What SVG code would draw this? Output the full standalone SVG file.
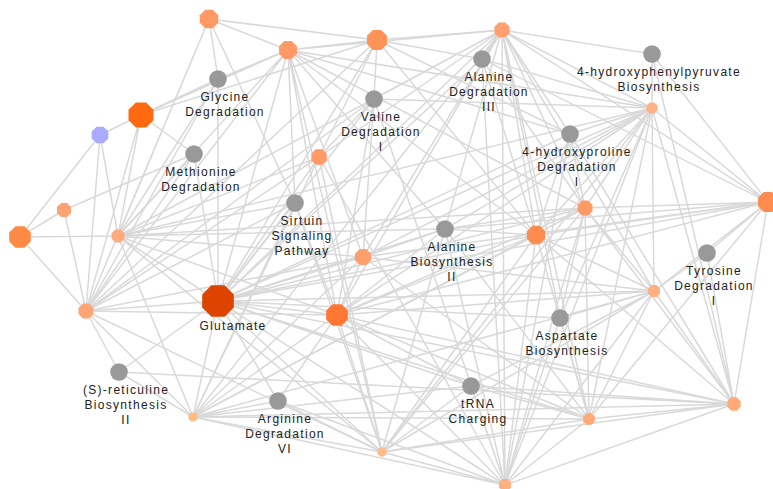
<svg xmlns="http://www.w3.org/2000/svg" width="773" height="489" viewBox="0 0 773 489">
<style>
.e path{stroke:#d9d9d9;stroke-width:1.5;fill:none}
.pw{fill:#999}
text{font-family:"Liberation Sans",Arial,sans-serif;font-size:12px;letter-spacing:1.3px;fill:#222;text-anchor:middle}
</style>
<defs>
<polygon id="oct" points="0.924,0.383 0.383,0.924 -0.383,0.924 -0.924,0.383 -0.924,-0.383 -0.383,-0.924 0.383,-0.924 0.924,-0.383"/>
</defs>
<rect width="773" height="489" fill="#fff"/>
<g id="connectors" class="e">
<path d="M209 19L218 79M209 19L118 236M209 19L377 40M209 19L288 50M209 19L295 203M209 19L86 311"/>
<path d="M288 50L377 40M288 50L502 30M288 50L218 79M288 50L141 115M288 50L118 236M288 50L218 301M288 50L295 203M288 50L363 257M288 50L337 315M288 50L445 229M288 50L585 208M288 50L570 134M288 50L652 108M288 50L536 235M288 50L86 311M288 50L382 452"/>
<path d="M377 40L502 30M377 40L141 115M377 40L374 99M377 40L319 157M377 40L218 301M377 40L482 59M377 40L536 235M377 40L570 134M377 40L86 311"/>
<path d="M502 30L482 59M502 30L374 99M502 30L319 157M502 30L218 301M502 30L363 257M502 30L337 315M502 30L445 229M502 30L536 235M502 30L585 208M502 30L570 134M502 30L652 108M502 30L652 54M502 30L768 202M502 30L654 291M502 30L560 318M502 30L505 485M502 30L589 419M502 30L118 236M502 30L193 417"/>
<path d="M141 115L100 135M141 115L118 236M141 115L194 154M141 115L218 79M141 115L86 311"/>
<path d="M100 135L20 237M100 135L118 236M100 135L86 311M64 210L20 237M64 210L86 311M64 210L194 154M20 237L118 236M20 237L86 311"/>
<path d="M118 236L218 79M118 236L194 154M118 236L319 157M118 236L295 203M118 236L363 257M118 236L337 315M118 236L218 301M118 236L585 208M118 236L445 229M118 236L382 452M118 236L193 417M118 236L652 108"/>
<path d="M319 157L218 301M319 157L374 99M319 157L86 311M319 157L193 417M319 157L382 452"/>
<path d="M218 301L218 79M218 301L194 154M218 301L295 203M218 301L363 257M218 301L337 315M218 301L445 229M218 301L536 235M218 301L585 208M218 301L652 108M218 301L768 202M218 301L654 291M218 301L560 318M218 301L734 404M218 301L589 419M218 301L471 386M218 301L382 452M218 301L505 485M218 301L193 417M218 301L278 401M218 301L119 372M218 301L86 311M218 301L374 99M218 301L482 59M218 301L570 134"/>
<path d="M86 311L194 154M86 311L295 203M86 311L363 257M86 311L337 315M86 311L218 79M86 311L193 417M86 311L374 99M86 311L119 372M86 311L382 452"/>
<path d="M337 315L295 203M337 315L374 99M337 315L363 257M337 315L445 229M337 315L536 235M337 315L585 208M337 315L652 108M337 315L654 291M337 315L471 386M337 315L589 419M337 315L505 485M337 315L382 452M337 315L193 417M337 315L278 401M337 315L734 404M337 315L768 202"/>
<path d="M363 257L374 99M363 257L445 229M363 257L652 108M363 257L768 202M363 257L654 291M363 257L589 419M363 257L193 417"/>
<path d="M536 235L482 59M536 235L570 134M536 235L652 108M536 235L768 202M536 235L654 291M536 235L560 318M536 235L734 404M536 235L589 419M536 235L505 485M536 235L382 452M536 235L193 417M536 235L445 229"/>
<path d="M585 208L482 59M585 208L570 134M585 208L652 108M585 208L768 202M585 208L654 291M585 208L560 318M585 208L734 404M585 208L589 419M585 208L505 485M585 208L382 452M585 208L445 229M585 208L193 417"/>
<path d="M652 108L652 54M652 108L482 59M652 108L570 134M652 108L768 202M652 108L560 318M652 108L589 419M652 108L505 485M652 108L445 229M652 108L382 452M652 108L734 404M652 108L654 291M652 108L374 99"/>
<path d="M768 202L707 253M768 202L654 291M768 202L734 404M768 202L445 229M768 202L589 419M768 202L482 59M768 202L652 54"/>
<path d="M654 291L707 253M654 291L560 318M654 291L589 419M654 291L505 485M654 291L734 404M654 291L471 386M654 291L193 417M654 291L382 452"/>
<path d="M734 404L707 253M734 404L589 419M734 404L471 386M734 404L505 485M734 404L382 452M734 404L193 417M734 404L570 134M734 404L652 54M734 404L119 372"/>
<path d="M589 419L560 318M589 419L471 386M589 419L505 485M589 419L445 229M589 419L382 452M589 419L193 417"/>
<path d="M505 485L471 386M505 485L560 318M505 485L382 452M505 485L278 401M505 485L193 417M505 485L445 229M505 485L374 99M505 485L570 134M505 485L319 157M505 485L482 59"/>
<path d="M382 452L278 401M382 452L471 386M382 452L193 417M382 452L295 203M382 452L445 229M193 417L119 372M193 417L278 401M193 417L471 386M193 417L295 203"/>
</g>
<g id="molecules">
<g id="m-a"><use href="#oct" transform="translate(209 19) scale(10)" fill="#FF9966"/></g>
<g id="m-b"><use href="#oct" transform="translate(288 50) scale(9.7)" fill="#FF9966"/></g>
<g id="m-c"><use href="#oct" transform="translate(377 40) scale(10.8)" fill="#FF9257"/></g>
<g id="m-d"><use href="#oct" transform="translate(502 30) scale(8.2)" fill="#FFA070"/></g>
<g id="m-e"><use href="#oct" transform="translate(141 115) scale(13.5)" fill="#FF6A11"/></g>
<g id="m-f"><use href="#oct" transform="translate(100 135) scale(9)" fill="#AAAAFF"/></g>
<g id="m-g"><use href="#oct" transform="translate(64 210) scale(7.6)" fill="#FFA374"/></g>
<g id="m-h"><use href="#oct" transform="translate(20 237) scale(11.7)" fill="#FF8A45"/></g>
<g id="m-i"><use href="#oct" transform="translate(118 236) scale(6.9)" fill="#FFAA7A"/></g>
<g id="m-j"><use href="#oct" transform="translate(319 157) scale(8.3)" fill="#FF9966"/></g>
<g id="m-l"><use href="#oct" transform="translate(86 311) scale(8.1)" fill="#FFA575"/></g>
<g id="m-m"><use href="#oct" transform="translate(337 315) scale(11.7)" fill="#FF7733"/></g>
<g id="m-n"><use href="#oct" transform="translate(363 257) scale(8.7)" fill="#FF9F70"/></g>
<g id="m-o"><use href="#oct" transform="translate(536 235) scale(9.9)" fill="#FF8C4F"/></g>
<g id="m-p"><use href="#oct" transform="translate(585 208) scale(8.1)" fill="#FF9966"/></g>
<g id="m-q"><use href="#oct" transform="translate(652 108) scale(6)" fill="#FFB285"/></g>
<g id="m-r"><use href="#oct" transform="translate(768 202) scale(10.8)" fill="#FF8C4F"/></g>
<g id="m-s"><use href="#oct" transform="translate(654 291) scale(6.5)" fill="#FFB080"/></g>
<g id="m-t"><use href="#oct" transform="translate(734 404) scale(7.2)" fill="#FFAA77"/></g>
<g id="m-u"><use href="#oct" transform="translate(589 419) scale(6.3)" fill="#FFAA77"/></g>
<g id="m-v"><use href="#oct" transform="translate(505 485) scale(6.5)" fill="#FFB080"/></g>
<g id="m-w"><use href="#oct" transform="translate(382 452) scale(5)" fill="#FFBB88"/></g>
<g id="m-x"><use href="#oct" transform="translate(193 417) scale(4.9)" fill="#FFBB88"/></g>
<g id="m-glutamate"><use href="#oct" transform="translate(218 301) scale(17.1)" fill="#DD4400"/><text x="233" y="330">Glutamate</text></g>
</g>
<g id="pathways">
<g id="p-glycine"><circle class="pw" cx="218" cy="79" r="8.8"/><text x="225" y="101">Glycine</text><text x="225" y="116">Degradation</text></g>
<g id="p-methionine"><circle class="pw" cx="194" cy="154" r="8.8"/><text x="201" y="176">Methionine</text><text x="201" y="191">Degradation</text></g>
<g id="p-alanine-deg"><circle class="pw" cx="482" cy="59" r="8.8"/><text x="489" y="81">Alanine</text><text x="489" y="96">Degradation</text><text x="489" y="111">III</text></g>
<g id="p-valine"><circle class="pw" cx="374" cy="99" r="8.8"/><text x="381" y="121">Valine</text><text x="381" y="136">Degradation</text><text x="381" y="151">I</text></g>
<g id="p-sirtuin"><circle class="pw" cx="295" cy="203" r="8.8"/><text x="302" y="225">Sirtuin</text><text x="302" y="240">Signaling</text><text x="302" y="255">Pathway</text></g>
<g id="p-alanine-bio"><circle class="pw" cx="445" cy="229" r="8.8"/><text x="452" y="251">Alanine</text><text x="452" y="266">Biosynthesis</text><text x="452" y="281">II</text></g>
<g id="p-hpp"><circle class="pw" cx="652" cy="54" r="8.8"/><text x="659" y="76">4-hydroxyphenylpyruvate</text><text x="659" y="91">Biosynthesis</text></g>
<g id="p-hydroxyproline"><circle class="pw" cx="570" cy="134" r="8.8"/><text x="577" y="156">4-hydroxyproline</text><text x="577" y="171">Degradation</text><text x="577" y="186">I</text></g>
<g id="p-tyrosine"><circle class="pw" cx="707" cy="253" r="8.8"/><text x="714" y="275">Tyrosine</text><text x="714" y="290">Degradation</text><text x="714" y="305">I</text></g>
<g id="p-aspartate"><circle class="pw" cx="560" cy="318" r="8.8"/><text x="567" y="340">Aspartate</text><text x="567" y="355">Biosynthesis</text></g>
<g id="p-reticuline"><circle class="pw" cx="119" cy="372" r="8.8"/><text x="126" y="394">(S)-reticuline</text><text x="126" y="409">Biosynthesis</text><text x="126" y="424">II</text></g>
<g id="p-trna"><circle class="pw" cx="471" cy="386" r="8.8"/><text x="478" y="408">tRNA</text><text x="478" y="423">Charging</text></g>
<g id="p-arginine"><circle class="pw" cx="278" cy="401" r="8.8"/><text x="285" y="423">Arginine</text><text x="285" y="438">Degradation</text><text x="285" y="453">VI</text></g>
</g>
</svg>
